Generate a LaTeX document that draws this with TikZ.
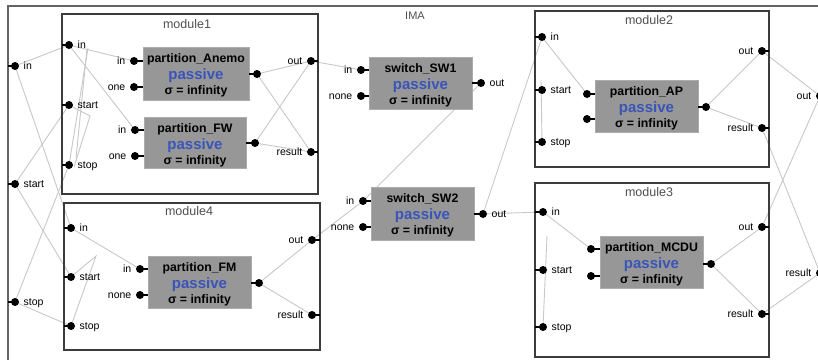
\documentclass[tikz,border=0pt]{standalone}
\usepackage{fontspec}
\setmainfont{Liberation Sans}
\usetikzlibrary{calc}
\pgfdeclarelayer{bgl}
\pgfdeclarelayer{wirel}
\pgfsetlayers{bgl,wirel,main}
\definecolor{boxgray}{RGB}{151,151,151}
\definecolor{pblue}{RGB}{58,84,186}
\definecolor{wirec}{RGB}{200,200,200}
\definecolor{framec}{RGB}{60,60,60}
\definecolor{outerc}{RGB}{100,100,100}
\definecolor{labc}{RGB}{80,80,80}
\newcommand\mkport[4]{%
  \node[pdot] (#1) at (#2,#3) {};
  \draw[ptick] (#1.center) -- ++(#4,0);}
\newcommand\mklabR[3]{\node[plab,anchor=base west] (#1-l) at ($(#1)+(8.5,3)$) {#2#3};}
\newcommand\mklabL[3]{\node[plab,anchor=base east] (#1-l) at ($(#1)+(-8.5,3)$) {#2#3};}
\newcommand\mkwire[2]{\draw[wire] (#1.center) -- (#2.center);}
\newcommand\mkatom[6]{%
  \path[atom] (#2,#3) rectangle (#4,#5);
  \node[aname,anchor=base] (#1-t) at ({(#2+#4)/2},{#3+15.5}) {#6};
  \node[apass,anchor=base] (#1-p) at ({(#2+#4)/2},{#3+32}) {passive};
  \node[asig,anchor=base] (#1-s) at ({(#2+#4)/2},{#3+47.5}) {σ = infinity};}
\begin{document}
\begin{tikzpicture}[x=1pt,y=-1pt,
  pdot/.style={circle,fill=black,inner sep=0pt,minimum size=8pt},
  ptick/.style={line width=1.2pt,black},
  wire/.style={draw=wirec,line width=0.9pt},
  modbox/.style={draw=framec,line width=1.1pt},
  outerf/.style={draw=outerc,line width=1.1pt},
  atom/.style={fill=boxgray,draw=gray!65,line width=0.6pt},
  plab/.style={font=\fontsize{10.5}{10.5}\selectfont,inner sep=0pt},
  mlab/.style={font=\fontsize{12.5}{12.5}\selectfont,text=labc,inner sep=0pt},
  aname/.style={font=\fontsize{12.3}{12.3}\selectfont\bfseries,inner sep=0pt},
  apass/.style={font=\fontsize{15}{15}\selectfont\bfseries,text=pblue,inner sep=0pt},
  asig/.style={font=\fontsize{12.3}{12.3}\selectfont\bfseries,inner sep=0pt}]
\useasboundingbox (0,0) rectangle (818,359);
\clip (0,0) rectangle (818,359);
\begin{pgfonlayer}{bgl}
  \fill[white] (0,0) rectangle (818,359);
\end{pgfonlayer}

% outer frame IMA
\draw[outerf] (8,365) -- (8,6) -- (825,6);
\node[mlab,font=\fontsize{11}{11}\selectfont,anchor=base] (ima) at (415,19.5) {IMA};

% modules
\draw[modbox] (62,14) rectangle (318,194);
\node[mlab,anchor=base] (m1lab) at (187,28) {module1};
\draw[modbox] (64,203) rectangle (320,350);
\node[mlab,anchor=base] (m4lab) at (189,215.5) {module4};
\draw[modbox] (535,11) rectangle (769,167);
\node[mlab,anchor=base] (m2lab) at (649,24) {module2};
\draw[modbox] (535,183) rectangle (769,357);
\node[mlab,anchor=base] (m3lab) at (649,196.5) {module3};

% atomic models
\mkatom{anemo}{143}{47}{249}{100}{partition\_Anemo}
\mkatom{fw}{144}{117}{246}{168}{partition\_FW}
\mkatom{fm}{148}{256}{251}{308}{partition\_FM}
\mkatom{sw1}{369}{57}{472}{109}{switch\_SW1}
\mkatom{sw2}{371}{187}{474}{240}{switch\_SW2}
\mkatom{ap}{595}{80}{698}{132}{partition\_AP}
\mkatom{mcdu}{600}{236}{703}{288}{partition\_MCDU}

% outer ports
\mkport{oin}{15}{66}{-7}\mklabR{oin}{}{in}
\mkport{ostart}{15}{184}{-7}\mklabR{ostart}{}{start}
\mkport{ostop}{15}{302}{-7}\mklabR{ostop}{}{stop}
\mkport{oout}{820}{96}{7}\mklabL{oout}{}{out}
\mkport{ores}{820}{273}{7}\mklabL{ores}{}{result}

% module1 ports
\mkport{m1in}{69}{45}{-7}\mklabR{m1in}{}{in}
\mkport{m1start}{69}{105}{-7}\mklabR{m1start}{}{start}
\mkport{m1stop}{69}{165}{-7}\mklabR{m1stop}{}{stop}
\mkport{m1out}{311}{61}{7}\mklabL{m1out}{}{out}
\mkport{m1res}{311}{152}{7}\mklabL{m1res}{}{result}
\mkport{ain}{134}{61}{9}\mklabL{ain}{}{in}
\mkport{anone}{134}{87}{9}\mklabL{anone}{}{one}
\mkport{aout}{257}{74}{-8}
\mkport{fin}{135}{130}{9}\mklabL{fin}{}{in}
\mkport{fnone}{135}{156}{9}\mklabL{fnone}{}{one}
\mkport{fout}{255}{143}{-9}

% module4 ports
\mkport{m4in}{71}{228}{-7}\mklabR{m4in}{}{in}
\mkport{m4start}{71}{277}{-7}\mklabR{m4start}{}{start}
\mkport{m4stop}{71}{326}{-7}\mklabR{m4stop}{}{stop}
\mkport{m4out}{312}{240}{8}\mklabL{m4out}{}{out}
\mkport{m4res}{312}{315}{8}\mklabL{m4res}{}{result}
\mkport{fmin}{140}{269}{8}\mklabL{fmin}{}{in}
\mkport{fmnone}{140}{295}{8}\mklabL{fmnone}{}{none}
\mkport{fmout}{259}{283}{-8}

% switches
\mkport{s1in}{361}{70}{8}\mklabL{s1in}{}{in}
\mkport{s1none}{361}{96}{8}\mklabL{s1none}{}{none}
\mkport{s1out}{481}{83}{-9}\mklabR{s1out}{}{out}
\mkport{s2in}{363}{201}{8}\mklabL{s2in}{}{in}
\mkport{s2none}{363}{227}{8}\mklabL{s2none}{}{none}
\mkport{s2out}{483}{214}{-9}\mklabR{s2out}{}{out}

% module2 ports
\mkport{m2in}{542}{37}{-7}\mklabR{m2in}{}{in}
\mkport{m2start}{542}{90}{-7}\mklabR{m2start}{}{start}
\mkport{m2stop}{542}{142}{-7}\mklabR{m2stop}{}{stop}
\mkport{m2out}{762}{51}{7}\mklabL{m2out}{}{out}
\mkport{m2res}{762}{128}{7}\mklabL{m2res}{}{result}
\mkport{apin}{587}{94}{8}
\mkport{aptwo}{587}{119}{8}
\mkport{apout}{706}{107}{-8}

% module3 ports
\mkport{m3in}{543}{212}{-8}\mklabR{m3in}{}{in}
\mkport{m3start}{543}{270}{-8}\mklabR{m3start}{}{start}
\mkport{m3stop}{543}{327}{-8}\mklabR{m3stop}{}{stop}
\mkport{m3out}{762}{227}{7}\mklabL{m3out}{}{out}
\mkport{m3res}{762}{314}{7}\mklabL{m3res}{}{result}
\mkport{mcin}{591}{249}{9}
\mkport{mctwo}{591}{276}{9}
\mkport{mcout}{711}{264}{-8}

% free wire ends
\coordinate (k1a) at (88,48);
\coordinate (k1b) at (87,49);
\coordinate (k1c) at (76,158);
\coordinate (k1d) at (90,116);
\coordinate (k1e) at (74,167);
\coordinate (k4a) at (96,256);
\coordinate (k2a) at (541,80);
\coordinate (k3a) at (547,236);

\begin{pgfonlayer}{wirel}
\mkwire{oin}{m1in}
\mkwire{oin}{m4in}
\mkwire{ostart}{m1start}
\mkwire{ostart}{m4start}
\mkwire{ostop}{m1stop}
\mkwire{ostop}{m4stop}
\mkwire{m1in}{ain}
\mkwire{m1in}{fin}
\mkwire{aout}{m1out}
\mkwire{aout}{m1res}
\mkwire{fout}{m1out}
\mkwire{fout}{m1res}
\mkwire{m1out}{s1in}
\mkwire{s1out}{s2in}
\mkwire{m4out}{s2in}
\mkwire{m4in}{fmin}
\mkwire{fmout}{m4out}
\mkwire{fmout}{m4res}
\mkwire{s2out}{m3in}
\mkwire{s2out}{m2in}
\mkwire{m2in}{apin}
\mkwire{apout}{m2out}
\mkwire{apout}{m2res}
\mkwire{m3in}{mcin}
\mkwire{mcout}{m3out}
\mkwire{mcout}{m3res}
\mkwire{m2out}{oout}
\mkwire{m3out}{oout}
\mkwire{m2res}{ores}
\mkwire{m3res}{ores}
\draw[wire] (k1a) -- (m1stop.center);
\draw[wire] (k1b) -- (k1c);
\draw[wire] (m1start.center) -- (k1d) -- (k1e);
\draw[wire] (m4start.center) -- (k4a) -- (m4stop.center);
\draw[wire] (k2a) -- (m2stop.center);
\draw[wire] (k3a) -- (m3stop.center);
\end{pgfonlayer}
\end{tikzpicture}
\end{document}
